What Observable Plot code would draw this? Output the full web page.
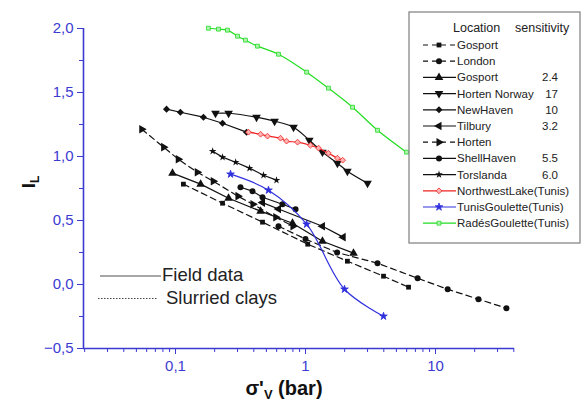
<!DOCTYPE html>
<html><head><meta charset="utf-8">
<script src="https://cdn.jsdelivr.net/npm/d3@7"></script>
<script src="https://cdn.jsdelivr.net/npm/@observablehq/plot@0.6"></script>
<style>body{margin:0;background:#fff}#chart{width:585px;height:401px}</style>
</head><body><div id="chart"></div>
<script>
// ---- data (σ'v in bar, liquidity index IL) ----
const gosportX = [0.115, 0.230, 0.467, 1.04, 2.10, 3.98, 6.2];
const gosportY = [0.784, 0.635, 0.487, 0.315, 0.182, 0.065, -0.021];
const londonX = [0.62, 1.0, 1.75, 3.58, 7.28, 12.4, 21.4, 35.1];
const londonY = [0.455, 0.355, 0.25, 0.166, 0.049, -0.037, -0.115, -0.185];
const gosport24X = [0.0948, 0.156, 0.256, 0.451, 0.794, 1.35, 2.34];
const gosport24Y = [0.870, 0.784, 0.674, 0.573, 0.479, 0.338, 0.245];
const hortenNorwayX = [0.203, 0.256, 0.420, 0.578, 0.809, 1.07, 1.35, 1.76, 2.10, 3.00];
const hortenNorwayY = [1.338, 1.338, 1.307, 1.276, 1.229, 1.127, 1.034, 0.948, 0.885, 0.791];
const newHavenX = [0.0853, 0.109, 0.164, 0.230, 0.352];
const newHavenY = [1.370, 1.346, 1.307, 1.260, 1.190];
const tilburyX = [0.467, 0.62, 1.35, 1.95];
const tilburyY = [0.64, 0.59, 0.455, 0.37];
const hortenX = [0.055, 0.081, 0.105, 0.147, 0.195, 0.302, 0.394, 0.59, 0.80];
const hortenY = [1.213, 1.073, 0.979, 0.877, 0.807, 0.690, 0.627, 0.525, 0.455];
const shellHavenX = [0.316, 0.391, 0.467, 0.665, 0.838];
const shellHavenY = [0.760, 0.729, 0.682, 0.627, 0.588];
const torslandaX = [0.193, 0.230, 0.290, 0.371, 0.475, 0.598];
const torslandaY = [1.041, 0.995, 0.955, 0.909, 0.854, 0.815];
const nwLakeX = [0.364, 0.451, 0.510, 0.642, 0.714, 0.868, 1.09, 1.26, 1.50, 1.76, 1.93];
const nwLakeY = [1.190, 1.174, 1.159, 1.143, 1.120, 1.112, 1.088, 1.065, 1.026, 0.987, 0.971];
const tunisGouletteX = [0.265, 0.519, 1.02, 1.995, 3.98];
const tunisGouletteY = [0.862, 0.737, 0.471, -0.037, -0.248];
const radesX = [0.179, 0.214, 0.251, 0.300, 0.345, 0.427, 0.620, 1.02, 1.50, 2.30, 3.58, 5.98];
const radesY = [2.002, 1.995, 1.987, 1.940, 1.909, 1.862, 1.799, 1.659, 1.534, 1.385, 1.205, 1.034];

const locations = ["Gosport","London","Gosport","Horten Norway","NewHaven","Tilbury","Horten","ShellHaven","Torslanda","NorthwestLake(Tunis)","TunisGoulette(Tunis)","RadésGoulette(Tunis)"];
const sensitivities = ["","","2.4","17","10","3.2","","5.5","6.0","","",""];
const yTicks = [-0.5, 0, 0.5, 1.0, 1.5, 2.0];
const yMinor = [-0.25, 0.25, 0.75, 1.25, 1.75];
const xTicks = [0.1, 1, 10];
const xMinor = [0.02,0.03,0.04,0.05,0.06,0.07,0.08,0.09,0.2,0.3,0.4,0.5,0.6,0.7,0.8,0.9,2,3,4,5,6,7,8,9,20,30,40];

// ---- symbols ----
function tri(angle){
  return {draw(ctx, size){
    const r = Math.sqrt(size / 1.299);
    for (let i = 0; i < 3; i++) {
      const a = angle + i * 2 * Math.PI / 3;
      const px = r * Math.sin(a), py = -r * Math.cos(a);
      if (i === 0) ctx.moveTo(px, py); else ctx.lineTo(px, py);
    }
    ctx.closePath();
  }};
}
const triUp = tri(0), triDown = tri(Math.PI), triLeft = tri(-Math.PI/2), triRight = tri(Math.PI/2);
const diamond = d3.symbolDiamond2 || d3.symbolDiamond;

const K = "#111";
const series = [
  {x: gosportX, y: gosportY, stroke: K, dash: "6,4", symbol: d3.symbolSquare, fill: K, r: 2.7},
  {x: londonX, y: londonY, stroke: K, dash: "6,4", symbol: d3.symbolCircle, fill: K, r: 3},
  {x: gosport24X, y: gosport24Y, stroke: K, dash: null, symbol: triUp, fill: K, r: 3.2},
  {x: hortenNorwayX, y: hortenNorwayY, stroke: K, dash: null, symbol: triDown, fill: K, r: 3.2, curve: "catmull-rom"},
  {x: newHavenX, y: newHavenY, stroke: K, dash: null, symbol: diamond, fill: K, r: 3.2},
  {x: tilburyX, y: tilburyY, stroke: K, dash: null, symbol: triLeft, fill: K, r: 3.2},
  {x: hortenX, y: hortenY, stroke: K, dash: "6,4", symbol: triRight, fill: K, r: 3.2},
  {x: shellHavenX, y: shellHavenY, stroke: K, dash: null, symbol: d3.symbolCircle, fill: K, r: 3},
  {x: torslandaX, y: torslandaY, stroke: K, dash: null, symbol: d3.symbolStar, fill: K, r: 2.4},
  {x: nwLakeX, y: nwLakeY, stroke: "#ee2222", dash: null, symbol: diamond, fill: "#ffb0b0", r: 2.6, curve: "catmull-rom"},
  {x: tunisGouletteX, y: tunisGouletteY, stroke: "#3030dd", dash: null, symbol: d3.symbolStar, fill: "#3030dd", r: 2.4, curve: "catmull-rom"},
  {x: radesX, y: radesY, stroke: "#22dd22", dash: null, symbol: d3.symbolSquare, fill: "#b0f0b0", r: 2.2, curve: "catmull-rom"}
];

const AX = "#3b3bd2";
const comma = d => d3.format(".1f")(d).replace(".", ",");
const marks = [
  Plot.axisY({ticks: yTicks, tickFormat: comma, color: AX, fontSize: 15, tickSize: 6, tickPadding: 4, label: null}),
  Plot.axisY({ticks: yMinor, tickFormat: () => "", color: AX, tickSize: 4, label: null}),
  Plot.axisX({ticks: xTicks, tickFormat: d => String(d).replace(".", ","), color: AX, fontSize: 15, tickSize: 6, tickPadding: 6, label: null}),
  Plot.axisX({ticks: xMinor, tickFormat: () => "", color: AX, tickSize: 4, label: null}),
  Plot.ruleX([0.0196], {stroke: AX, strokeWidth: 1.6}),
  Plot.ruleY([-0.5], {stroke: AX, strokeWidth: 1.6})
];
for (const s of series) {
  const data = s.x.map((x, i) => ({x, y: s.y[i]}));
  marks.push(Plot.line(data, {x: "x", y: "y", stroke: s.stroke, strokeWidth: 1.2, strokeDasharray: s.dash, curve: s.curve || "linear"}));
  marks.push(Plot.dot(data, {x: "x", y: "y", symbol: () => s.symbol, r: s.r, fill: s.fill, stroke: s.stroke === K ? "none" : s.stroke, strokeWidth: 0.8}));
}

const chart = Plot.plot({
  width: 585, height: 401,
  marginLeft: 83, marginTop: 28, marginBottom: 53, marginRight: 71,
  x: {type: "log", domain: [0.0196, 40.5], axis: null},
  y: {domain: [-0.5, 2.0], axis: null},
  style: {fontFamily: "'Liberation Sans', Arial, sans-serif", background: "white", overflow: "visible"},
  marks
});
document.getElementById("chart").appendChild(chart);

const svg = d3.select(chart);
const FONT = "'Liberation Sans', Arial, sans-serif";
function txt(sel, x, y, size, anchor) {
  return sel.append("text").attr("x", x).attr("y", y).attr("font-family", FONT).attr("font-size", size)
    .attr("text-anchor", anchor || "start").attr("fill", "#222");
}
// axis titles
const yl = svg.append("text").attr("transform", "translate(35,182) rotate(-90)")
  .attr("text-anchor", "middle").attr("font-family", FONT).attr("font-weight", "bold").attr("font-size", 19).attr("fill", "#111");
yl.append("tspan").text("I");
yl.append("tspan").attr("font-size", 12).attr("dy", 4).text("L");
const xl = svg.append("text").attr("x", 284).attr("y", 395).attr("text-anchor", "middle")
  .attr("font-family", FONT).attr("font-weight", "bold").attr("font-size", 20).attr("fill", "#111");
xl.append("tspan").text("σ'");
xl.append("tspan").attr("font-size", 13).attr("dy", 4).text("V");
xl.append("tspan").attr("dy", -4).text(" (bar)");

// field / slurried annotation
svg.append("line").attr("x1", 100).attr("x2", 161).attr("y1", 276).attr("y2", 276).attr("stroke", "#888").attr("stroke-width", 1.5);
txt(svg, 162, 281, 18.5).text("Field data");
svg.append("line").attr("x1", 98).attr("x2", 157).attr("y1", 298.5).attr("y2", 298.5).attr("stroke", "#444").attr("stroke-width", 1.2).attr("stroke-dasharray", "1.5,1.5");
txt(svg, 166, 304, 18.5).text("Slurried clays");

// legend
const lg = svg.append("g");
lg.append("rect").attr("x", 409).attr("y", 12).attr("width", 171).attr("height", 231).attr("fill", "white").attr("stroke", "#888").attr("stroke-width", 1.3);
txt(lg, 453, 32, 12.5).text("Location");
txt(lg, 515, 32, 12.5).text("sensitivity");
series.forEach((s, i) => {
  const y = 45 + i * 16.2;
  lg.append("line").attr("x1", 423).attr("x2", 456).attr("y1", y).attr("y2", y).attr("stroke", s.stroke).attr("stroke-width", 1.2).attr("stroke-dasharray", s.dash ? "5,4" : null);
  lg.append("path").attr("transform", `translate(439,${y})`).attr("d", d3.symbol(s.symbol, s.r * s.r * Math.PI)())
    .attr("fill", s.fill).attr("stroke", s.stroke === K ? "none" : s.stroke).attr("stroke-width", 0.8);
  txt(lg, 457, y + 4, 11.5).text(locations[i]);
  if (sensitivities[i]) txt(lg, 558, y + 4, 11.5, "end").text(sensitivities[i]);
});
</script></body></html>
